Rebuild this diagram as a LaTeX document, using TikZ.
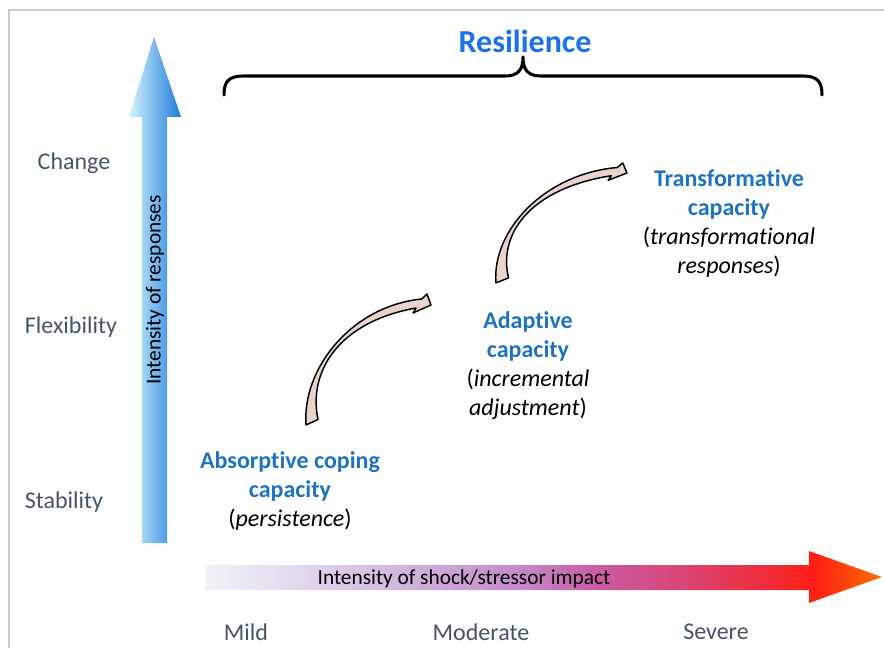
\documentclass[tikz,border=0pt]{standalone}
\usepackage{fontspec}
\setmainfont[Ligatures=NoCommon]{Carlito}
\definecolor{framegray}{RGB}{205,205,200}
\definecolor{txtgray}{RGB}{68,84,106}
\definecolor{capblue}{RGB}{30,115,192}
\definecolor{resblue}{RGB}{28,112,235}
\definecolor{arrowfill}{RGB}{232,212,202}
\definecolor{vleft}{RGB}{210,245,251}
\definecolor{vright}{RGB}{30,122,220}
\definecolor{g0}{RGB}{242,242,248}
\definecolor{g1}{RGB}{228,220,238}
\definecolor{g2}{RGB}{208,184,222}
\definecolor{g3}{RGB}{196,140,202}
\definecolor{g4}{RGB}{200,92,162}
\definecolor{g5}{RGB}{216,70,120}
\definecolor{g6}{RGB}{236,46,62}
\definecolor{g7}{RGB}{255,30,22}
\definecolor{g8}{RGB}{255,112,0}
\pgfdeclarehorizontalshading{shockgrad}{100bp}{color(0bp)=(g0); color(25bp)=(g0); color(31bp)=(g1); color(39bp)=(g2); color(48bp)=(g3); color(54bp)=(g4); color(60bp)=(g5); color(66bp)=(g6); color(70bp)=(g7); color(75bp)=(g8); color(100bp)=(g8)}
\tikzset{
  axislabel/.style={font=\fontsize{18}{21.6}\selectfont, text=txtgray, inner sep=0pt},
  axistitle/.style={font=\fontsize{16}{19.2}\selectfont, text=black, inner sep=0pt},
  capnode/.style={font=\fontsize{18}{21.75}\selectfont, align=center, inner sep=0pt},
  curvearrow/.pic={
    \filldraw[fill=arrowfill, draw=black, line width=1.1pt, line join=round]
      (-1,1) -- (11,-4.5)
      .. controls (1,-52) and (31,-102) .. (109,-116)
      -- (106,-111) -- (124,-119) -- (120,-130) -- (114.7,-125)
      .. controls (45,-118) and (-5,-56) .. (-1,1) -- cycle;
  }
}
\begin{document}
\begin{tikzpicture}[x=0.75pt, y=-0.75pt]
\useasboundingbox (0,0) rectangle (884,648);
% frame
\draw[framegray, line width=1.5pt] (9,648) -- (9,10.5) -- (884,10.5);

% vertical arrow
\path[left color=vleft, right color=vright]
  (142,543) -- (142,117) -- (129,117) -- (154,37) -- (181,117) -- (167,117) -- (167,543) -- cycle;
\node[axistitle, rotate=90] (vtitle) at (155,290) {Intensity of responses};

% horizontal arrow
\path[shading=shockgrad]
  (205,565) -- (809,565) -- (809,551) -- (882,577) -- (809,603) -- (809,590) -- (205,590) -- cycle;
\node[axistitle] (htitle) at (464,579) {Intensity of shock/stressor impact};

% axis labels
\node[axislabel] (change) at (74,163) {Change};
\node[axislabel] (flex) at (71,327) {Flexibility};
\node[axislabel] (stab) at (64,502) {Stability};
\node[axislabel] (mild) at (246,632) {Mild};
\node[axislabel] (moderate) at (481,632) {Moderate};
\node[axislabel] (severe) at (716,632) {Severe};

% resilience brace
\node[font=\fontsize{24}{28}\selectfont\bfseries, text=resblue, inner sep=0pt] (res) at (525,41) {Resilience};
\draw[line width=2.3pt, line cap=round, line join=round]
  (224,95) .. controls (224,81) and (229,76) .. (244,76) -- (505,76)
  .. controls (518,76) and (523,70) .. (523,57)
  .. controls (523,70) and (528,76) .. (541,76) -- (802,76)
  .. controls (817,76) and (822,81) .. (822,95);

% capacities
\node[capnode] (absorb) at (290,491) {\textcolor{capblue}{\bfseries Absorptive coping}\\\textcolor{capblue}{\bfseries capacity}\\(\textit{persistence})};
\node[capnode] (adapt) at (528,366) {\textcolor{capblue}{\bfseries Adaptive}\\\textcolor{capblue}{\bfseries capacity}\\(\textit{incremental}\\\textit{adjustment})};
\node[capnode] (transf) at (729,224) {\textcolor{capblue}{\bfseries Transformative}\\\textcolor{capblue}{\bfseries capacity}\\(\textit{transformational}\\\textit{responses})};

% curved arrows
\pic at (307,424) {curvearrow};
\pic[xscale=1.048, yscale=0.916] at (497,282) {curvearrow};
\end{tikzpicture}
\end{document}
